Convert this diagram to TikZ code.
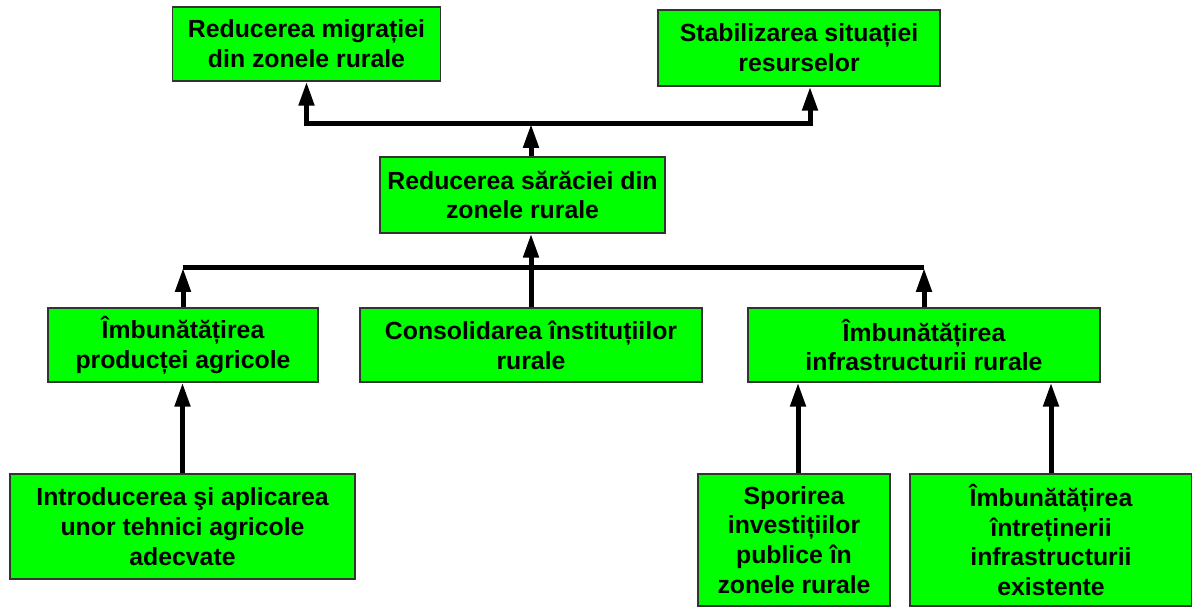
\documentclass[tikz,border=0pt]{standalone}
\usepackage{fontspec}
\setmainfont{Liberation Sans}
\usetikzlibrary{arrows.meta,calc}
\begin{document}
\begin{tikzpicture}[x=0.5pt,y=-0.5pt,font=\fontsize{12.4}{14.9}\selectfont\bfseries,
	box/.style={draw=black!80,line width=0.75pt,fill=green,align=center,inner sep=0pt},
	link/.style={line width=2.5pt},
	arr/.style={link,-{Triangle[length=12pt,width=7.5pt]}}]
		\useasboundingbox (0,0) rectangle (1192,608);
		% top row
		\node[box,minimum width=134pt,minimum height=37pt] (mig) at (306.5,44) {Reducerea migrației\\din zonele rurale};
		\node[box,minimum width=141pt,minimum height=38pt] (stab) at (799,48) {Stabilizarea situației\\resurselor};
		\node[box,minimum width=142.5pt,minimum height=38pt] (sar) at (522.5,195) {Reducerea sărăciei din\\zonele rurale};
		% middle row
		\node[box,minimum width=135pt,minimum height=37pt] (prod) at (183,345) {Îmbunătățirea\\producței agricole};
		\node[box,minimum width=171pt,minimum height=37pt] (inst) at (531,345) {Consolidarea înstituțiilor\\rurale};
		\node[box,minimum width=176pt,minimum height=37pt] (infra) at (924,345) {Îmbunătățirea\\infrastructurii rurale};
		% bottom row
		\node[box,minimum width=172.5pt,minimum height=52.5pt] (teh) at (182.5,526.5) {Introducerea şi aplicarea\\unor tehnici agricole\\adecvate};
		\node[box,minimum width=96pt,minimum height=66pt] (inv) at (794,540) {Sporirea\\investițiilor\\publice în\\zonele rurale};
		\node[box,minimum width=141pt,minimum height=66pt] (intr) at (1051,540) {Îmbunătățirea\\întreținerii\\infrastructurii\\existente};
		\coordinate (bar1) at (531,124);
		\coordinate (bar2) at (531,268);
		% connectors
		\draw[arr] (bar1 |- sar.north) -- (bar1);
		\draw[arr] (bar1) -| (mig.south);
		\draw[arr] (bar1) -| ([xshift=5.5pt]stab.south);
		\draw[arr] (inst.north) -- (inst.north |- sar.south);
		\draw[link] (prod.north |- bar2) -- (infra.north |- bar2);
		\draw[arr] (prod.north) -- (prod.north |- bar2);
		\draw[arr] (infra.north) -- (infra.north |- bar2);
		\draw[arr] (teh.north) -- (teh.north |- prod.south);
		\draw[arr] ([xshift=2pt]inv.north) -- ([xshift=2pt]inv.north |- infra.south);
		\draw[arr] (intr.north) -- (intr.north |- infra.south);
\end{tikzpicture}
\end{document}
